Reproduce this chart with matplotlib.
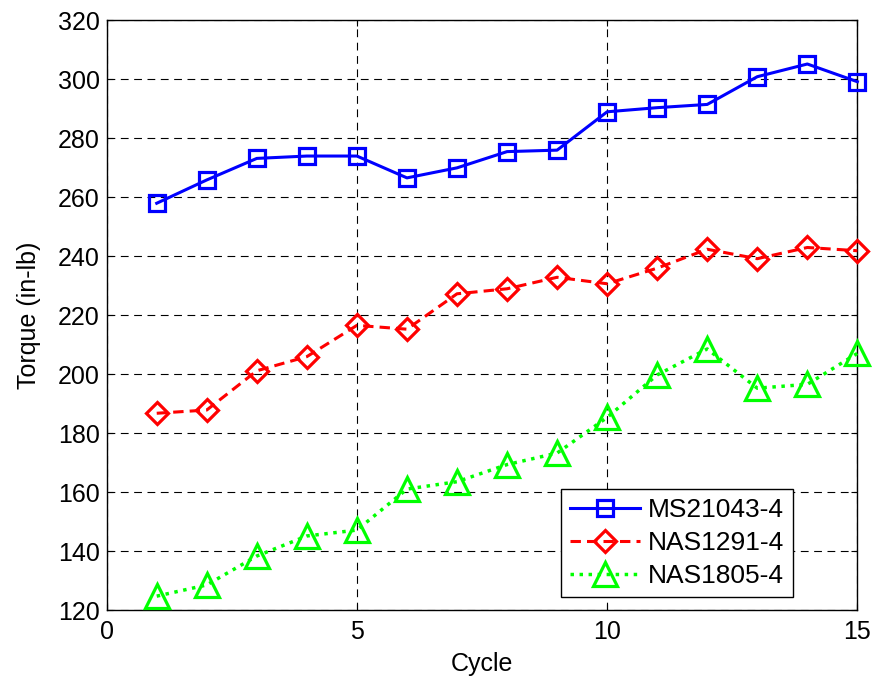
import matplotlib
matplotlib.use("Agg")
import matplotlib.pyplot as plt

plt.rcParams['font.family'] = ['Liberation Sans', 'DejaVu Sans']

cycles = list(range(1, 16))
ms21043 = [258.0, 265.9, 273.2, 274.0, 274.0, 266.6, 270.0, 275.5, 276.0,
           289.0, 290.4, 291.5, 300.9, 305.2, 299.2]
nas1291 = [186.8, 187.9, 201.2, 206.0, 216.6, 215.3, 227.3, 229.0, 232.9,
           230.7, 236.0, 242.4, 239.2, 243.0, 241.9]
nas1805 = [124.8, 128.6, 138.4, 145.2, 147.2, 161.1, 163.6, 169.4, 173.3,
           185.4, 199.8, 208.6, 195.3, 196.6, 207.1]
labels = ['MS21043-4', 'NAS1291-4', 'NAS1805-4']

fig = plt.figure(figsize=(8.78, 6.90), dpi=100)
ax = fig.add_axes([0.1215, 0.1155, 0.855, 0.855])

lw = 2.2
mew = 2.3
ax.plot(cycles, ms21043, color=(0, 0, 1), linestyle='-', linewidth=lw,
        marker='s', markersize=12, markerfacecolor='none',
        markeredgewidth=mew, label=labels[0], clip_on=False, zorder=3)
ax.plot(cycles, nas1291, color=(1, 0, 0), linestyle=(0, (3.4, 2.0)), linewidth=lw,
        marker='D', markersize=11, markerfacecolor='none',
        markeredgewidth=mew, label=labels[1], clip_on=False, zorder=3)
ax.plot(cycles, nas1805, color=(0, 1, 0), linestyle=(0, (1, 1.6)), linewidth=lw + 0.3,
        marker='^', markersize=17, markerfacecolor='none',
        markeredgewidth=mew, label=labels[2], clip_on=False, zorder=3)

ax.set_xlim(0, 15)
ax.set_ylim(120, 320)
ax.set_xticks([0, 5, 10, 15])
ax.set_yticks(range(120, 321, 20))

ax.grid(True, color='black', linestyle=(0, (7, 5)), linewidth=0.8)
ax.set_axisbelow(True)
ax.tick_params(direction='in', top=True, right=True, labelsize=18,
               length=4.5, width=0.8)
ax.tick_params(axis='y', pad=5)
ax.tick_params(axis='x', pad=7)
for s in ax.spines.values():
    s.set_linewidth(1.0)

ax.set_xlabel('Cycle', fontsize=18, labelpad=6)
ax.set_ylabel('Torque (in-lb)', fontsize=18, labelpad=12)

leg = ax.legend(loc='lower right', bbox_to_anchor=(0.914, 0.023),
                fontsize=19, fancybox=False, edgecolor='black',
                framealpha=1, handlelength=2.65, borderpad=0.34,
                labelspacing=0.33, handletextpad=0.3, borderaxespad=0)
leg.get_frame().set_linewidth(1.0)

fig.savefig('out.png', dpi=100)
